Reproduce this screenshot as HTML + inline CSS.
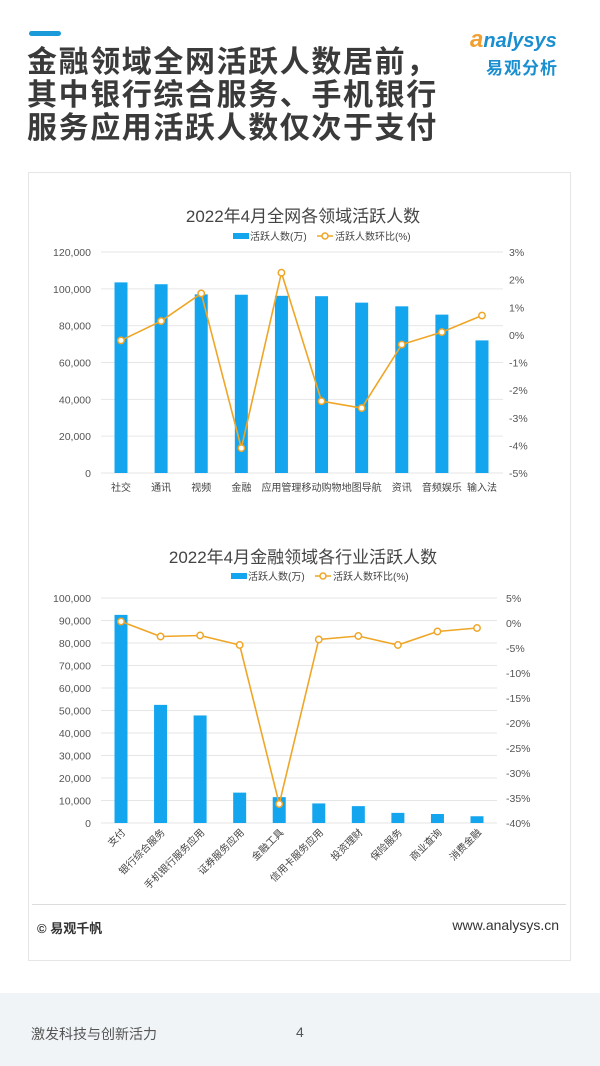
<!DOCTYPE html>
<html><head><meta charset="utf-8">
<style>
html,body{margin:0;padding:0;}
body{width:600px;height:1066px;position:relative;overflow:hidden;background:#fff;font-family:"Liberation Sans","Noto Sans CJK SC",sans-serif;}
.abs{position:absolute;}
</style></head>
<body>
<div class="abs" style="left:0;top:993px;width:600px;height:73px;background:#f0f4f6;"></div>
<div class="abs" style="left:29px;top:31px;width:32px;height:5px;border-radius:3px;background:#1a9ad8;"></div>
<div class="abs" style="left:27px;top:46px;width:480px;font-size:30px;font-weight:bold;line-height:33px;color:#3a3a3a;white-space:nowrap;letter-spacing:1.6px;">金融领域全网活跃人数居前，<br>其中银行综合服务、手机银行<br>服务应用活跃人数仅次于支付</div>
<div class="abs" style="left:470px;top:26px;width:110px;">
  <div style="font-size:20px;font-style:italic;color:#1a8fd0;font-weight:bold;"><span style="color:#f0a030;font-size:24px;">a</span>nalysys</div>
  <div style="font-size:17px;color:#1a8fd0;font-weight:bold;margin-left:16px;letter-spacing:1px;">易观分析</div>
</div>
<div class="abs" style="left:28px;top:172px;width:543px;height:789px;border:1px solid #e6e6e6;box-sizing:border-box;"></div>
<div class="abs" style="left:32px;top:904px;width:534px;height:1px;background:#dcdcdc;"></div>
<div class="abs" style="left:37px;top:918px;font-size:13px;color:#333;font-weight:bold;">© 易观千帆</div>
<div class="abs" style="right:41px;top:917px;font-size:14px;color:#333;">www.analysys.cn</div>
<div class="abs" style="left:31px;top:1024px;font-size:14px;color:#555;">激发科技与创新活力</div>
<div class="abs" style="left:296px;top:1024px;font-size:14px;color:#555;">4</div>

<svg class="abs" style="left:0;top:0;" width="600" height="1066" id="charts"></svg>

<script>
const cats1 = ["社交","通讯","视频","金融","应用管理","移动购物","地图导航","资讯","音频娱乐","输入法"];
const bars1 = [103500,102500,97000,96800,96200,96000,92500,90500,86000,72000];
const line1 = [-0.2,0.5,1.5,-4.1,2.25,-2.4,-2.65,-0.35,0.1,0.7];
const leftTicks1 = [0,20000,40000,60000,80000,100000,120000];
const rightTicks1 = [-5,-4,-3,-2,-1,0,1,2,3];

const cats2 = ["支付","银行综合服务","手机银行服务应用","证券服务应用","金融工具","信用卡服务应用","投资理财","保险服务","商业查询","消费金融"];
const bars2 = [92500,52500,47800,13500,11500,8700,7500,4500,4000,3000];
const line2 = [0.3,-2.7,-2.5,-4.4,-36.2,-3.3,-2.6,-4.4,-1.7,-1.0];
const leftTicks2 = [0,10000,20000,30000,40000,50000,60000,70000,80000,90000,100000];
const rightTicks2 = [-40,-35,-30,-25,-20,-15,-10,-5,0,5];

const NS="http://www.w3.org/2000/svg";
const svg=document.getElementById('charts');
function el(tag,attrs,parent){const e=document.createElementNS(NS,tag);for(const k in attrs)e.setAttribute(k,attrs[k]);(parent||svg).appendChild(e);return e;}
function fmt(v){return v.toLocaleString('en-US');}

function drawChart(o){
  const g=el('g',{});
  
  
  const yL=v=>o.y0+(o.y1-o.y0)*(v-o.lmin)/(o.lmax-o.lmin);
  const yR=v=>o.y0+(o.y1-o.y0)*(v-o.rmin)/(o.rmax-o.rmin);
  const n=o.cats.length;
  const step=(o.xEnd-o.xStart)/(n-1);
  const xC=i=>o.xStart+i*step;
  const t=el('text',{x:o.titleX,y:o.titleY,'text-anchor':'middle','font-size':'17','fill':'#444'},g);
  t.textContent=o.title;
  
  
  const lg=el('g',{},g);
  
  
  el('rect',{x:o.legX,y:o.legY-4,width:16,height:6,fill:'#14a5ef'},lg);
  const l1=el('text',{x:o.legX+17,y:o.legY+3,'font-size':'10','fill':'#444'},lg);l1.textContent='活跃人数(万)';
  el('line',{x1:o.legX+84,x2:o.legX+100,y1:o.legY-1,y2:o.legY-1,stroke:'#efa627','stroke-width':1.5},lg);
  el('circle',{cx:o.legX+92,cy:o.legY-1,r:3,fill:'#fff',stroke:'#efa627','stroke-width':1.5},lg);
  const l2=el('text',{x:o.legX+102,y:o.legY+3,'font-size':'10','fill':'#444'},lg);l2.textContent='活跃人数环比(%)';
  o.lt.forEach(v=>{
    const y=yL(v);
    const gl=el('line',{x1:o.gx0,x2:o.gx1,y1:y,y2:y,stroke:'#e6e6e6','stroke-width':1},g);
    
    
    const tx=el('text',{x:o.lx,y:y+4,'text-anchor':'end','font-size':'10.5','fill':'#555'},g);
    tx.textContent=fmt(v);
    
    
  });
  o.rt.forEach(v=>{
    const tx=el('text',{x:o.rx,y:yR(v)+4,'text-anchor':'start','font-size':'10.5','fill':'#555'},g);
    tx.textContent=v+'%';
    
    
  });
  o.bars.forEach((v,i)=>{
    const y=yL(v);
    const r=el('rect',{x:xC(i)-6.5,y:y,width:13,height:o.y0-y,fill:'#14a5ef'},g);
    
    
  });
  const pts=o.line.map((v,i)=>xC(i)+','+yR(v)).join(' ');
  const pl=el('polyline',{points:pts,fill:'none',stroke:'#efa627','stroke-width':1.6},g);
  
  
  o.line.forEach((v,i)=>{
    const c=el('circle',{cx:xC(i),cy:yR(v),r:3.2,fill:'#fff',stroke:'#efa627','stroke-width':1.5},g);
    
    
  });
  o.cats.forEach((c,i)=>{
    let tx;
    if(o.rot){
      const x=xC(i)+5,y=o.y0+10;
      tx=el('text',{x:x,y:y,'text-anchor':'end','font-size':'10','fill':'#444',transform:'rotate(-45 '+x+' '+y+')'},g);
    }else{
      tx=el('text',{x:xC(i),y:o.y0+18,'text-anchor':'middle','font-size':'10','fill':'#444'},g);
    }
    tx.textContent=c;
    
    
  });
}

drawChart({name:'chart-all-domains',title:'2022年4月全网各领域活跃人数',titleX:303,titleY:222,legX:233,legY:237,
  cats:cats1,bars:bars1,line:line1,lt:leftTicks1,rt:rightTicks1,
  y0:473,y1:252,lmin:0,lmax:120000,rmin:-5,rmax:3,xStart:121,xEnd:482,gx0:101,gx1:503,lx:91,rx:509,rot:false});
drawChart({name:'chart-finance',title:'2022年4月金融领域各行业活跃人数',titleX:303,titleY:563,legX:231,legY:577,
  cats:cats2,bars:bars2,line:line2,lt:leftTicks2,rt:rightTicks2,
  y0:823,y1:598,lmin:0,lmax:100000,rmin:-40,rmax:5,xStart:121,xEnd:477,gx0:101,gx1:497,lx:91,rx:506,rot:true});
</script>
</body></html>
